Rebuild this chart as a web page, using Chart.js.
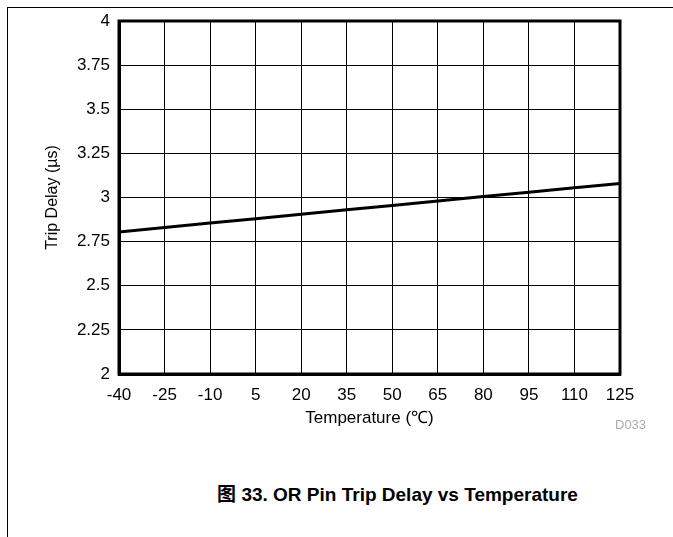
<!DOCTYPE html>
<html>
<head>
<meta charset="utf-8">
<script src="https://cdn.jsdelivr.net/npm/chart.js@4"></script>
<style>
  body { margin: 0; background: #fff; width: 673px; height: 537px; position: relative; overflow: hidden; font-family: "Liberation Sans", Arial, sans-serif; }
  #topLine { position: absolute; left: 7px; top: 7px; width: 666px; height: 1px; background: #000; }
  #leftLine { position: absolute; left: 7px; top: 7px; width: 1px; height: 530px; background: #000; }
  #myChart { position: absolute; left: 0; top: 0; }
  #code { position: absolute; left: 615px; top: 417px; font-size: 13px; color: #aaa; }
  #caption { position: absolute; left: 0; width: 795px; top: 479px; text-align: center; font-size: 19px; font-weight: bold; font-family: "Liberation Sans", "Noto Sans CJK SC", sans-serif; }
</style>
</head>
<body>
<div id="topLine"></div>
<div id="leftLine"></div>
<canvas id="myChart" width="673" height="440"></canvas>
<div id="code">D033</div>
<div id="caption">图 33. OR Pin Trip Delay vs Temperature</div>
<script>
let myChart = document.querySelector("#myChart").getContext("2d")

const temps = [-40, -25, -10, 5, 20, 35, 50, 65, 80, 95, 110, 125]
const tripDelay = [2.805, 2.83, 2.855, 2.88, 2.905, 2.93, 2.955, 2.98, 3.005, 3.03, 3.055, 3.08]
const yTicks = [2, 2.25, 2.5, 2.75, 3, 3.25, 3.5, 3.75, 4]

const tickFont = { family: "Liberation Sans", size: 17 }

let chart = new Chart(myChart, {
    type: "line",
    data: {
        datasets: [{
            label: "Trip Delay",
            data: temps.map((t, i) => ({ x: t, y: tripDelay[i] })),
            borderColor: "#000",
            borderWidth: 3,
            pointRadius: 0,
            tension: 0
        }]
    },
    options: {
        responsive: false,
        animation: false,
        layout: { padding: { top: 21, right: 53, left: 0, bottom: 0 } },
        plugins: { legend: { display: false }, tooltip: { enabled: false } },
        scales: {
            x: {
                type: "linear",
                min: -40, max: 125,
                afterBuildTicks: (s) => { s.ticks = temps.map(v => ({ value: v })) },
                afterFit: (s) => { s.height = 66 },
                border: { color: "#000", width: 3 },
                grid: { color: "#000", lineWidth: 1, drawTicks: false },
                ticks: { color: "#000", font: tickFont, padding: 11, maxRotation: 0, autoSkip: false },
                title: { display: true, text: "Temperature (℃)", color: "#000", font: { family: "Liberation Sans", size: 17 }, padding: { top: 0, bottom: 11 } }
            },
            y: {
                min: 2, max: 4,
                afterBuildTicks: (s) => { s.ticks = yTicks.map(v => ({ value: v })) },
                afterFit: (s) => { s.width = 119 },
                border: { color: "#000", width: 3 },
                grid: { color: "#000", lineWidth: 1, drawTicks: false },
                ticks: { color: "#000", font: tickFont, padding: 9, autoSkip: false, callback: (v) => String(v) },
                title: { display: true, text: "Trip Delay (µs)", color: "#000", font: { family: "Liberation Sans", size: 16 }, padding: { top: 43, bottom: 0 } }
            }
        }
    },
    plugins: [{
        id: "frame",
        afterDraw(c) {
            const a = c.chartArea, ctx = c.ctx
            ctx.save()
            ctx.strokeStyle = "#000"
            ctx.lineWidth = 3
            ctx.strokeRect(a.left, a.top, a.right - a.left, a.bottom - a.top)
            ctx.restore()
        }
    }]
});
</script>
</body>
</html>
